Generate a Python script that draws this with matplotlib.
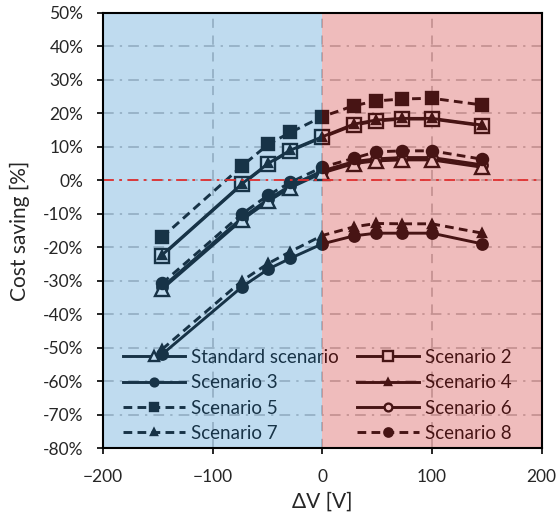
import matplotlib

matplotlib.use("Agg")
import matplotlib.pyplot as plt
from matplotlib.ticker import FuncFormatter, MultipleLocator

plt.rcParams["font.family"] = ["Lato", "DejaVu Sans"]

# Voltage offset [V] and cost saving [%] for each scenario
delta_v = [-146, -73, -49, -29, 0, 29, 49, 73, 100, 146]

standard = [-32.5, -11.8, -6.2, -2.2, 2.2, 5.0, 5.8, 6.1, 6.1, 3.9]
scenario_2 = [-22.5, -1.2, 4.9, 8.8, 12.8, 16.5, 17.7, 18.3, 18.3, 16.3]
scenario_3 = [-52.0, -31.8, -26.5, -23.3, -19.0, -16.6, -15.8, -15.8, -15.8, -19.0]
scenario_4 = [-22.3, -1.0, 5.1, 9.0, 13.0, 16.8, 18.0, 18.5, 18.5, 16.5]
scenario_5 = [-17.0, 4.3, 10.8, 14.3, 19.0, 22.3, 23.7, 24.3, 24.5, 22.5]
scenario_6 = [-32.0, -11.2, -5.6, -1.6, 2.8, 5.6, 6.4, 6.8, 6.8, 4.6]
scenario_7 = [-50.5, -30.0, -24.8, -21.3, -16.5, -13.9, -12.9, -13.0, -13.0, -15.8]
scenario_8 = [-30.8, -10.0, -4.4, -0.6, 3.9, 6.6, 8.5, 8.8, 8.8, 6.3]

x_ticks = [-200, -100, 0, 100, 200]

DASH = (3.0, 1.8)


def main() -> None:
    fig = plt.figure(figsize=(5.56, 5.18), dpi=100)
    ax = fig.add_axes([0.185, 0.135, 0.789, 0.84])

    common = dict(color="black", lw=2.1, mew=1.7)
    # (label, values, marker, markersize, filled, dashed, zorder)
    series = [
        ("Standard scenario", standard, "^", 10, False, False, 3.2),
        ("Scenario 2", scenario_2, "s", 10.5, False, False, 3.0),
        ("Scenario 3", scenario_3, "o", 7.5, True, False, 3.0),
        ("Scenario 4", scenario_4, "^", 5.5, True, False, 3.3),
        ("Scenario 5", scenario_5, "s", 8, True, True, 3.0),
        ("Scenario 6", scenario_6, "o", 7.5, False, False, 3.1),
        ("Scenario 7", scenario_7, "^", 6, True, True, 3.1),
        ("Scenario 8", scenario_8, "o", 8, True, True, 3.4),
    ]
    handles = {}
    for label, values, marker, ms, filled, dashed, z in series:
        (line,) = ax.plot(
            delta_v,
            values,
            marker=marker,
            ms=ms,
            mfc="black" if filled else "white",
            mec="black",
            label=label,
            zorder=z,
            **common,
        )
        if dashed:
            line.set_dashes(DASH)
        handles[label] = line

    ax.set_xlim(-200, 200)
    ax.set_ylim(-80, 50)
    ax.set_xticks(x_ticks)
    ax.yaxis.set_major_locator(MultipleLocator(10))
    ax.yaxis.set_major_formatter(FuncFormatter(lambda v, _: f"{v:.0f}%"))

    ax.set_axisbelow(True)
    ax.yaxis.grid(True, color="#b4b4b4", lw=1.1, linestyle=(0, (7, 4, 1.5, 4)))
    ax.xaxis.grid(True, color="#b4b4b4", lw=1.1, linestyle=(0, (6, 5)))

    # legend filled row by row: left column first, then right column
    order = [
        "Standard scenario", "Scenario 3", "Scenario 5", "Scenario 7",
        "Scenario 2", "Scenario 4", "Scenario 6", "Scenario 8",
    ]
    leg = ax.legend(
        [handles[k] for k in order],
        order,
        ncol=2,
        loc="lower left",
        bbox_to_anchor=(0.02, -0.012),
        frameon=False,
        fontsize=13.5,
        handlelength=3.3,
        handletextpad=0.35,
        columnspacing=0.95,
        labelspacing=0.45,
        markerscale=0.75,
        borderaxespad=0.2,
    )
    leg.set_zorder(5)

    # translucent shading for negative and positive offsets
    ax.axvspan(-200, 0, color=(0.27, 0.59, 0.82), alpha=0.34, lw=0, zorder=6)
    ax.axvspan(0, 200, color=(0.82, 0.24, 0.24), alpha=0.34, lw=0, zorder=6)
    ax.axhline(0, color="#e03030", lw=1.3, linestyle=(0, (6, 3, 1.5, 3)), zorder=7)

    for spine in ax.spines.values():
        spine.set_zorder(8)
        spine.set_linewidth(1.5)
        spine.set_color("black")

    ax.tick_params(direction="out", length=4, width=1.2, labelsize=12.5, colors="black", labelcolor="#262626")
    ax.tick_params(axis="y", pad=10)
    ax.tick_params(axis="x", pad=11)
    ax.set_xlabel("ΔV [V]", fontsize=15, color="#262626", labelpad=5)
    ax.set_ylabel("Cost saving [%]", fontsize=15, color="#262626", labelpad=9)

    fig.savefig("out.png", dpi=100)
    plt.close(fig)


if __name__ == "__main__":
    main()
